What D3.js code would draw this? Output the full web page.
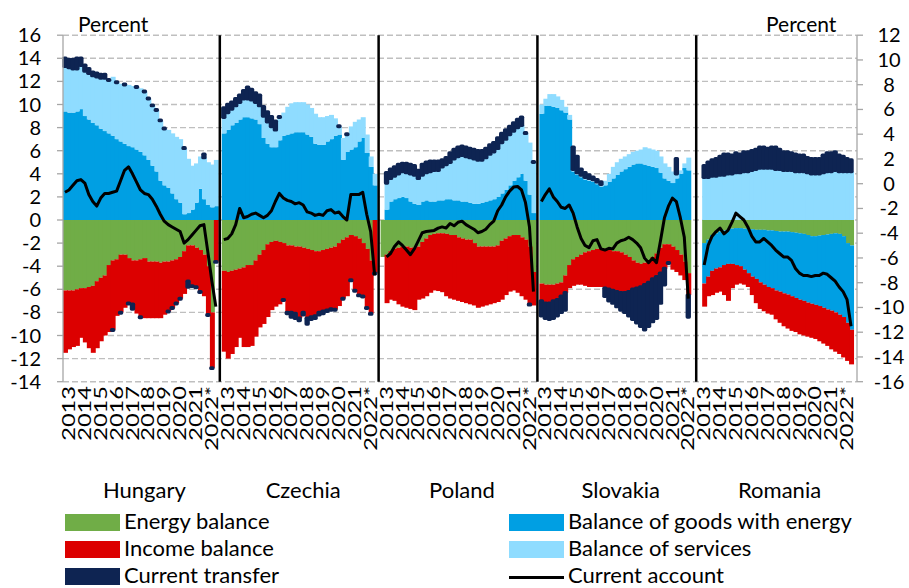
<!DOCTYPE html>
<html>
<head>
<meta charset="utf-8">
<script src="https://cdn.jsdelivr.net/npm/d3@7"></script>
<style>
  body { margin: 0; background: #fff; }
  svg { display: block; font-family: Lato, "Open Sans", "Noto Sans", sans-serif; }
</style>
</head>
<body>
<svg id="chart" width="909" height="588"></svg>
<script>
// Quarterly series, 2013 Q1 – 2022 Q3, percent of GDP (null = no observation)
const countries = ["Hungary", "Czechia", "Poland", "Slovakia", "Romania"];
const yearLabels = ["2013", "2014", "2015", "2016", "2017", "2018", "2019", "2020", "2021", "2022*"];
const leftTicks = d3.range(-14, 17, 2);
const rightTicks = d3.range(-16, 13, 2);

const energyHU = [-6.1,-6.1,-6.1,-6.0,-5.9,-5.9,-5.8,-5.7,-5.3,-5.0,-4.8,-3.9,-3.5,-3.4,-3.0,-3.0,-3.3,-3.5,-3.5,-3.4,-3.3,-3.6,-3.6,-3.6,-3.7,-3.6,-3.6,-3.5,-3.4,-3.2,-2.7,-2.2,-2.2,-2.4,-2.6,-3.0,-4.0,-8.0,null];
const goodsHU = [9.4,9.3,9.3,9.4,9.6,9.0,8.7,8.4,8.2,7.9,7.7,7.5,7.3,7.0,6.8,6.6,6.4,6.3,6.1,5.9,5.6,5.2,4.7,4.2,3.4,3.0,2.8,2.3,1.8,1.5,0.5,0.6,0.9,1.5,2.7,1.8,1.3,1.1,1.2];
const servicesHU = [3.9,3.9,3.8,3.7,3.8,3.9,4.0,4.1,4.2,4.4,4.6,4.6,5.1,4.9,5.0,5.1,5.3,5.3,5.4,5.5,5.5,5.3,5.2,5.3,5.2,4.9,5.0,5.2,5.4,5.5,5.7,4.7,3.8,3.4,2.8,3.6,3.7,3.7,4.0];
const incomeHU = [-5.4,-5.1,-4.9,-4.9,-4.3,-4.7,-5.3,-5.8,-5.8,-5.5,-5.2,-5.8,-6.0,-4.9,-5.0,-4.6,-3.9,-3.8,-4.6,-5.0,-5.2,-4.9,-4.9,-4.9,-4.8,-4.6,-4.3,-4.1,-3.8,-3.6,-3.7,-3.1,-3.5,-3.4,-3.6,-3.6,-4.2,-4.8,-3.6];
const transferHU = [0.7,0.7,0.8,0.9,0.6,0.5,0.4,0.3,0.3,0.3,0.3,0.05,-0.05,0.05,-0.05,0.05,-0.05,-0.4,0.05,-0.05,0.05,0.05,0.05,0.05,0.05,0.05,-0.05,-0.05,-0.05,-0.05,0.05,-0.5,-0.05,-0.05,-0.05,0.3,-0.05,-0.05,-0.05];
const currentHU = [2.4,2.6,3.0,3.4,3.5,3.2,2.2,1.6,1.2,1.9,2.3,2.3,2.4,2.5,3.4,4.3,4.6,4.0,3.3,2.6,2.3,2.2,1.8,1.2,0.5,-0.1,-0.4,-0.6,-0.8,-1.0,-2.0,-1.7,-1.3,-0.9,-0.5,-0.4,-2.8,-5.3,-7.5];

const energyCZ = [-4.4,-4.5,-4.4,-4.3,-4.2,-4.1,-3.9,-3.9,-3.5,-3.0,-2.6,-2.1,-1.9,-1.8,-1.9,-2.0,-2.2,-2.2,-2.3,-2.3,-2.4,-2.5,-2.6,-2.7,-2.7,-2.6,-2.5,-2.4,-2.3,-2.0,-1.7,-1.5,-1.3,-1.4,-1.6,-2.0,-2.5,-3.5,null];
const goodsCZ = [7.5,7.8,8.2,8.4,8.7,8.9,8.9,8.8,8.7,8.3,7.1,6.6,6.3,6.3,6.9,7.3,7.4,7.5,7.6,7.6,7.6,7.4,7.2,6.6,6.5,6.5,6.8,7.0,7.3,7.4,5.2,5.9,6.1,6.3,6.8,7.1,5.8,4.6,3.0];
const servicesCZ = [1.4,1.5,1.4,1.5,1.5,1.6,1.6,1.6,1.5,1.6,1.9,1.9,1.8,1.5,2.0,2.0,2.4,2.6,2.6,2.6,2.6,2.6,2.5,2.6,2.4,2.4,2.2,2.1,1.5,0.7,1.9,1.5,2.0,2.2,1.9,1.8,1.6,0.9,1.0];
const incomeCZ = [-7.0,-7.5,-7.2,-6.7,-6.0,-6.9,-7.1,-7.0,-6.6,-6.3,-6.4,-6.3,-5.9,-5.7,-5.4,-4.9,-5.8,-5.8,-5.8,-6.2,-5.6,-6.0,-5.8,-5.6,-5.3,-5.3,-5.3,-5.3,-5.45,-5.45,-5.1,-5.1,-3.9,-4.7,-4.9,-4.6,-5.1,-4.6,-4.6];
const transferCZ = [0.8,0.7,0.6,0.6,0.6,0.7,1.0,0.9,0.8,0.9,0.8,0.85,0.85,0.75,0.05,-0.05,-0.1,-0.4,-0.4,-0.2,-0.2,-0.5,-0.2,-0.2,-0.2,-0.2,-0.1,-0.1,-0.05,0.05,-0.05,0.05,-0.05,-0.05,-0.05,-0.05,-0.05,-0.05,-0.05];
const currentCZ = [-1.7,-1.6,-1.2,-0.4,1.0,0.2,0.3,0.5,0.6,0.4,0.2,0.4,0.8,1.6,2.3,1.9,1.7,1.6,1.4,1.5,1.3,0.7,0.6,0.4,0.5,0.4,0.8,0.9,0.6,0.7,0.3,0.0,2.2,2.2,2.2,2.4,0.5,-1.0,-4.8];

const energyPL = [-3.2,-3.0,-2.7,-2.5,-2.4,-2.3,-2.3,-2.4,-2.4,-2.3,-1.9,-1.6,-1.3,-1.2,-1.15,-1.15,-1.2,-1.3,-1.3,-1.5,-1.6,-1.7,-1.7,-2.0,-2.3,-2.3,-2.3,-2.3,-2.3,-2.2,-1.8,-1.6,-1.4,-1.3,-1.3,-1.5,-1.7,-2.3,-4.5];
const goodsPL = [null,0.9,1.6,1.8,1.9,2.0,1.9,1.6,1.4,1.3,1.6,1.7,1.6,1.6,1.7,1.7,1.8,1.8,1.7,1.7,1.6,1.6,1.5,1.4,1.4,1.5,1.6,1.7,1.8,2.0,2.3,2.6,3.0,3.4,3.7,4.0,3.4,2.2,0.6];
const servicesPL = [null,2.3,2.0,2.0,2.1,2.2,2.2,2.4,2.5,2.3,2.3,2.4,2.6,2.7,2.6,2.9,3.0,3.2,3.6,3.8,4.0,3.9,3.9,3.9,3.8,3.7,3.8,4.0,4.1,4.2,4.4,4.4,4.4,4.3,4.3,4.2,4.1,4.5,4.4];
const incomePL = [null,-4.2,-4.2,-4.5,-4.9,-5.2,-5.3,-5.3,-5.4,-4.6,-4.9,-5.0,-5.0,-4.9,-5.0,-5.1,-5.4,-5.5,-5.6,-5.5,-5.5,-5.5,-5.6,-5.4,-5.3,-5.2,-5.1,-5.0,-4.9,-4.9,-5.1,-4.9,-4.8,-4.8,-5.0,-5.1,-5.2,-5.0,-2.9];
const transferPL = [null,0.9,0.8,0.8,0.8,0.7,0.8,0.8,0.8,0.7,0.9,0.9,0.9,0.8,0.8,0.6,0.6,0.8,0.8,0.8,0.8,0.8,0.8,0.8,0.8,0.8,0.8,0.8,0.8,0.9,0.8,0.8,0.7,0.7,0.7,0.7,0.05,-0.05,0.05];
const currentPL = [null,-3.2,-2.9,-2.3,-1.9,-2.2,-2.6,-3.0,-2.5,-1.8,-1.1,-1.0,-0.95,-0.9,-0.7,-0.6,-0.7,-0.3,-0.5,-0.2,-0.1,-0.4,-0.6,-0.8,-1.1,-1.0,-0.8,-0.4,-0.1,0.8,1.3,2.0,2.5,2.85,2.9,2.6,1.5,-0.6,-6.2];

const energySK = [-5.5,-5.6,-5.6,-5.6,-5.5,-5.4,-4.8,-3.9,-3.4,-3.2,-3.0,-2.8,-2.7,-2.6,-2.5,-2.45,-2.5,-2.6,-2.7,-2.7,-2.8,-3.0,-3.2,-3.5,-3.7,-3.8,-3.7,-3.5,-3.2,-2.9,-2.4,-2.1,-2.1,-2.3,-2.6,-3.0,-3.6,-4.6,null];
const goodsSK = [9.2,9.9,9.9,9.8,9.7,9.5,9.3,8.7,4.2,3.9,3.7,3.5,3.4,3.3,3.1,2.9,3.0,3.3,3.6,3.9,4.2,4.4,4.6,4.8,4.9,4.9,4.8,4.7,4.6,4.5,4.1,3.6,3.4,3.2,3.6,4.0,4.5,4.3,null];
const servicesSK = [0.8,0.6,1.0,1.1,1.0,0.9,0.5,0.4,0.2,0.2,0.2,0.2,0.2,0.2,0.2,0.2,0.4,0.7,1.0,1.1,1.1,1.1,1.1,1.1,1.1,1.2,1.5,1.5,1.5,1.5,1.4,1.3,1.2,1.0,0.4,0.3,0.4,1.1,null];
const incomeSK = [-1.5,-1.6,-1.6,-1.4,-1.4,-1.2,-1.5,-2.0,-2.3,-2.4,-2.6,-2.9,-3.1,-3.2,-3.3,-3.35,-3.4,-3.4,-3.4,-3.5,-3.5,-3.3,-3.0,-2.5,-2.2,-2.0,-1.9,-1.9,-1.9,-2.0,-2.2,-2.1,-1.6,-2.0,-1.9,-1.8,-1.6,-1.9,null];
const transferSK = [-1.3,-1.3,-1.4,-1.5,-1.4,-1.4,-1.5,null,1.9,1.4,0.5,0.4,0.3,0.2,0.2,0.2,-0.7,-1.0,-1.1,-1.3,-1.5,-1.7,-2.1,-2.6,-3.0,-3.4,-3.9,-3.8,-3.7,-3.6,-2.6,-1.4,-0.05,null,1.3,null,null,-1.9,null];
const currentSK = [1.6,2.2,2.7,2.0,1.6,1.1,1.0,1.3,0.6,-0.6,-1.6,-2.2,-2.4,-1.8,-1.7,-2.5,-2.6,-2.45,-2.5,-2.0,-1.8,-1.7,-1.5,-1.7,-2.0,-2.4,-3.3,-3.7,-3.3,-3.7,-1.8,0.2,1.2,1.9,1.6,0.2,-1.5,-6.8,null];

const energyRO = [null,-2.0,-1.7,-1.3,-1.15,-1.0,-0.9,-0.85,-0.75,-0.7,-0.7,-0.75,-0.8,-0.8,-0.85,-0.85,-0.85,-0.9,-0.9,-0.95,-1.0,-1.0,-1.0,-1.05,-1.1,-1.15,-1.2,-1.3,-1.4,-1.4,-1.35,-1.3,-1.25,-1.2,-1.15,-1.2,-1.4,-2.0,-2.2];
const goodsRO = [null,-3.5,-3.2,-3.1,-3.05,-3.1,-3.0,-2.95,-3.05,-3.2,-3.3,-3.55,-3.8,-4.1,-4.25,-4.55,-4.75,-4.9,-5.0,-5.15,-5.2,-5.35,-5.45,-5.55,-5.65,-5.75,-5.8,-5.85,-5.85,-5.95,-6.1,-6.3,-6.5,-6.65,-6.85,-7.0,-7.0,-6.9,-7.3];
const servicesRO = [null,3.7,3.7,3.8,3.8,3.9,3.9,4.0,4.0,4.1,4.1,4.2,4.2,4.3,4.4,4.5,4.5,4.5,4.5,4.4,4.4,4.3,4.3,4.3,4.2,4.2,4.2,4.1,4.0,4.0,4.0,4.1,4.2,4.2,4.3,4.2,4.2,4.2,4.2];
const incomeRO = [null,-2.0,-1.7,-2.1,-2.1,-2.1,-2.6,-3.2,-2.1,-1.7,-1.5,-1.3,-1.2,-1.6,-2.1,-2.3,-2.3,-2.3,-2.3,-2.5,-2.7,-2.85,-2.95,-3.0,-2.95,-3.0,-3.0,-2.95,-2.95,-2.95,-3.05,-3.1,-3.15,-3.35,-3.4,-3.4,-3.5,-3.3,-3.0];
const transferRO = [null,1.0,1.3,1.4,1.5,1.6,1.8,1.7,1.6,1.7,1.6,1.7,1.7,1.7,1.7,1.8,1.8,1.7,1.8,1.9,1.7,1.6,1.6,1.5,1.5,1.4,1.4,1.3,1.3,1.3,1.3,1.5,1.6,1.6,1.6,1.4,1.3,1.1,1.0];
const currentRO = [null,-3.9,-2.2,-1.4,-1.0,-0.7,-1.2,-0.9,-0.2,0.6,0.3,0.0,-0.6,-1.4,-1.9,-1.9,-1.6,-1.9,-2.2,-2.6,-2.9,-3.2,-3.2,-3.5,-4.2,-4.6,-4.8,-4.8,-4.9,-4.8,-4.8,-4.6,-4.7,-5.0,-5.3,-5.8,-6.2,-6.9,-9.2];

const panels = [
  { energy: energyHU, goods: goodsHU, services: servicesHU, income: incomeHU, transfer: transferHU, current: currentHU },
  { energy: energyCZ, goods: goodsCZ, services: servicesCZ, income: incomeCZ, transfer: transferCZ, current: currentCZ },
  { energy: energyPL, goods: goodsPL, services: servicesPL, income: incomePL, transfer: transferPL, current: currentPL },
  { energy: energySK, goods: goodsSK, services: servicesSK, income: incomeSK, transfer: transferSK, current: currentSK },
  { energy: energyRO, goods: goodsRO, services: servicesRO, income: incomeRO, transfer: transferRO, current: currentRO }
];

const keys = ["energy", "goods", "services", "income", "transfer"];
const colors = {
  energy: "#70ad47",
  goods: "#009fe3",
  services: "#8fdcff",
  income: "#dc0000",
  transfer: "#0e2452"
};

// layout
const slotsPerPanel = 40;
const plot = { left: 63, right: 857, top: 35.2, bottom: 381.7 };

const x = d3.scaleBand()
  .domain(d3.range(countries.length * slotsPerPanel))
  .range([plot.left, plot.right])
  .paddingInner(0).paddingOuter(0);
const bw = x.bandwidth();
const y = d3.scaleLinear().domain([-14, 16]).range([plot.bottom, plot.top]);
const yR = d3.scaleLinear().domain([-16, 12]).range([plot.bottom, plot.top]);

// one row per quarter and country, placed on its own slot
const rows = panels.flatMap((p, pi) =>
  p.goods.map((_, i) => {
    const r = { panel: pi, slot: pi * slotsPerPanel + i, current: p.current[i] };
    keys.forEach(k => r[k] = p[k][i]);
    return r;
  })
);

const series = d3.stack()
  .keys(keys)
  .value((d, k) => d[k] == null ? 0 : d[k])
  .offset(d3.stackOffsetDiverging)(rows);

const svg = d3.select("#chart");
const txt = "#000";

// horizontal dashed gridlines
svg.append("g").selectAll("line").data(leftTicks).join("line")
  .attr("x1", plot.left).attr("x2", plot.right)
  .attr("y1", d => y(d)).attr("y2", d => y(d))
  .attr("stroke", "#bfbfbf").attr("stroke-width", 1.4)
  .attr("stroke-dasharray", "6,3");

// stacked bars (transfer drawn separately with a rounded outline)
const barG = svg.append("g");
series.filter(s => s.key !== "transfer").forEach(s => {
  barG.append("g").attr("fill", colors[s.key])
    .selectAll("rect")
    .data(s.filter(d => d.data[s.key] != null && d[1] !== d[0]))
    .join("rect")
    .attr("x", d => x(d.data.slot))
    .attr("width", bw + 1)
    .attr("y", d => y(d[1]))
    .attr("height", d => y(d[0]) - y(d[1]));
});

const tr = series.find(s => s.key === "transfer");
barG.append("g")
  .attr("fill", colors.transfer).attr("stroke", colors.transfer)
  .attr("stroke-width", 3.4).attr("stroke-linejoin", "round")
  .selectAll("path")
  .data(tr.filter(d => d.data.transfer != null))
  .join("path")
  .attr("d", d => {
    const x0 = x(d.data.slot) + 1, x1 = x(d.data.slot) + bw - 1;
    const yt = y(d[1]), yb = y(d[0]);
    return `M${x0},${yt}H${x1}V${yb}H${x0}Z`;
  });

// current account line per country
const line = d3.line()
  .defined(d => d.current != null)
  .x(d => x(d.slot) + bw / 2)
  .y(d => y(d.current));
svg.append("g").selectAll("path")
  .data(d3.groups(rows, d => d.panel))
  .join("path")
  .attr("d", d => line(d[1]))
  .attr("fill", "none").attr("stroke", "#000")
  .attr("stroke-width", 3).attr("stroke-linejoin", "round");

// country separators
svg.append("g").selectAll("line")
  .data(d3.range(1, countries.length))
  .join("line")
  .attr("x1", p => x(p * slotsPerPanel - 1) + bw / 2)
  .attr("x2", p => x(p * slotsPerPanel - 1) + bw / 2)
  .attr("y1", plot.top).attr("y2", plot.bottom)
  .attr("stroke", "#000").attr("stroke-width", 2.5);

// axes
const axisColor = "#a6a6a6";
const axG = svg.append("g").attr("stroke", axisColor).attr("stroke-width", 1.3);
axG.append("line").attr("x1", plot.left).attr("x2", plot.left).attr("y1", plot.top).attr("y2", plot.bottom);
axG.append("line").attr("x1", plot.right).attr("x2", plot.right).attr("y1", plot.top).attr("y2", plot.bottom);
axG.selectAll(".tl").data(leftTicks).join("line")
  .attr("x1", plot.left - 6).attr("x2", plot.left)
  .attr("y1", d => y(d)).attr("y2", d => y(d));
axG.selectAll(".tr").data(rightTicks).join("line")
  .attr("x1", plot.right).attr("x2", plot.right + 6)
  .attr("y1", d => yR(d)).attr("y2", d => yR(d));

svg.append("g").selectAll("text").data(leftTicks).join("text")
  .attr("x", 41).attr("y", d => y(d)).attr("dy", "0.35em")
  .attr("text-anchor", "end").attr("fill", txt)
  .style("font-size", "20px").text(d => d);

svg.append("g").selectAll("text").data(rightTicks).join("text")
  .attr("x", 889).attr("y", d => yR(d)).attr("dy", "0.35em")
  .attr("text-anchor", "middle").attr("fill", txt)
  .style("font-size", "20px").text(d => d);

svg.append("text").attr("x", 78).attr("y", 32).attr("fill", txt)
  .style("font-size", "21px").text("Percent");
svg.append("text").attr("x", 766).attr("y", 32).attr("fill", txt)
  .style("font-size", "21px").text("Percent");

// rotated year labels under each panel
const yearG = svg.append("g");
countries.forEach((c, p) => {
  yearLabels.forEach((lab, k) => {
    const cx = x(p * slotsPerPanel + k * 4 + 1) + bw / 2;
    yearG.append("text")
      .attr("transform", `translate(${cx},386) rotate(-90) scale(1.39,1)`)
      .attr("text-anchor", "end").attr("dy", "0.36em")
      .attr("fill", txt).style("font-size", "17px")
      .text(lab);
  });
  svg.append("text")
    .attr("x", x(p * slotsPerPanel + 20) + bw / 2).attr("y", 498)
    .attr("text-anchor", "middle").attr("fill", txt)
    .style("font-size", "22px").text(c);
});

// legend
const legendItems = [
  { label: "Energy balance", key: "energy", col: 0, row: 0 },
  { label: "Income balance", key: "income", col: 0, row: 1 },
  { label: "Current transfer", key: "transfer", col: 0, row: 2 },
  { label: "Balance of goods with energy", key: "goods", col: 1, row: 0 },
  { label: "Balance of services", key: "services", col: 1, row: 1 },
  { label: "Current account", key: null, col: 1, row: 2 }
];
const colX = [65, 509];
const lg = svg.append("g");
legendItems.forEach(it => {
  const x0 = colX[it.col], top = 514 + it.row * 27;
  if (it.key) {
    lg.append("rect").attr("x", x0).attr("y", top).attr("width", 55).attr("height", 17)
      .attr("fill", colors[it.key]);
  } else {
    lg.append("line").attr("x1", x0).attr("x2", x0 + 55)
      .attr("y1", top + 9.5).attr("y2", top + 9.5)
      .attr("stroke", "#000").attr("stroke-width", 3);
  }
  lg.append("text").attr("x", x0 + 59).attr("y", top + 14.5)
    .attr("fill", txt).style("font-size", "22px").text(it.label);
});
</script>
</body>
</html>
